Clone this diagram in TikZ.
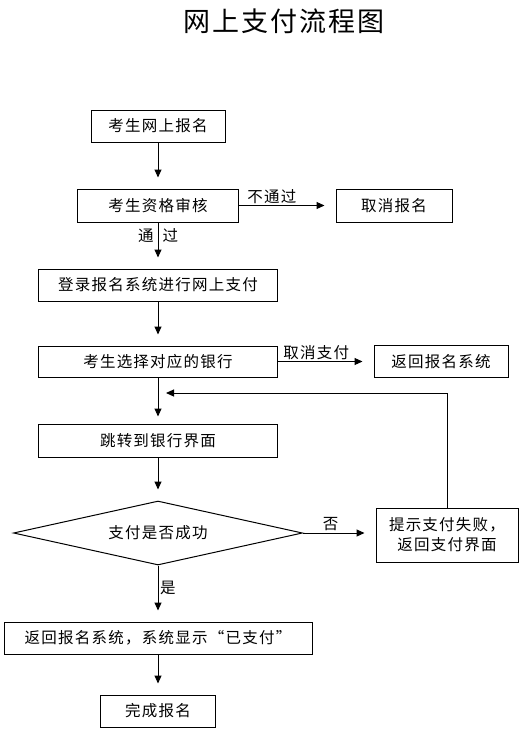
\documentclass[tikz,border=0pt]{standalone}
\usepackage{fontspec}
\newfontfamily\cjk{Noto Sans CJK SC}[LetterSpace=8]
\newfontfamily\cjktitle{Noto Sans CJK SC}[LetterSpace=7]
\usepackage{tikz}
\usetikzlibrary{positioning,arrows.meta,shapes.geometric}

\begin{document}
\begin{tikzpicture}[x=1pt,y=-1pt,
  box/.style={draw,line width=1pt,minimum height=32pt,inner sep=2pt,font=\cjk\fontsize{15.5}{20}\selectfont},
  lbl/.style={inner sep=1.5pt,font=\cjk\fontsize{15.5}{20}\selectfont},
  arr/.style={-{Triangle[length=8pt,width=7pt]},line width=1pt,shorten >=11pt}]
\useasboundingbox (0,0) rectangle (528,734);
\node[font=\cjktitle\fontsize{27}{30}\selectfont] (title) at (284,21) {网上支付流程图};
\node[box,minimum width=134pt] (reg) at (158,126) {考生网上报名};
\node[box,minimum width=161pt,minimum height=33pt] (check) at (158,205.5) {考生资格审核};
\node[box,minimum width=116pt,minimum height=33pt] (cancel) at (394,205.5) {取消报名};
\node[box,minimum width=239pt] (login) at (158,285) {登录报名系统进行网上支付};
\node[box,minimum width=239pt,minimum height=31pt] (bank) at (158,361.5) {考生选择对应的银行};
\node[box,minimum width=134pt] (back) at (441,361.5) {返回报名系统};
\node[box,minimum width=239pt,minimum height=33pt] (jump) at (158,440.5) {跳转到银行界面};
\node[box,diamond,aspect=4.5,inner sep=0pt,minimum width=289pt,minimum height=64pt] (ok) at (158,533) {支付是否成功};
\node[box,minimum width=142pt,minimum height=54pt,align=center] (fail) at (447,535) {提示支付失败，\\返回支付界面};
\node[box,minimum width=308pt] (paid) at (158,638) {返回报名系统，系统显示“已支付”};
\node[box,minimum width=115pt] (done) at (158,711) {完成报名};
\coordinate (loop) at (158,393);
\draw[arr] (reg) -- (check);
\draw[arr] (check) -- node[lbl,above,pos=.34] {不通过} (cancel);
\draw[arr] (check) -- node[lbl,left,pos=.28,inner sep=4pt] {通} node[lbl,right,pos=.28,inner sep=4pt] {过} (login);
\draw[arr] (login) -- (bank);
\draw[arr] (bank) -- node[lbl,above,pos=.4] {取消支付} (back);
\draw[arr,shorten >=7pt] (bank) -- (jump);
\draw[arr] (jump) -- (ok);
\draw[arr] (ok.east) -- node[lbl,above,pos=.38] {否} (ok.east -| fail.west);
\draw[arr,shorten >=8pt] (fail) |- (loop);
\draw[arr] (ok) -- node[lbl,right,pos=.4] {是} (paid);
\draw[arr] (paid) -- (done);
\end{tikzpicture}
\end{document}
